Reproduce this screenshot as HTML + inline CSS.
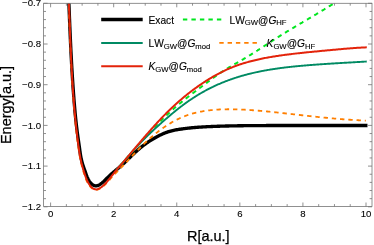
<!DOCTYPE html>
<html><head><meta charset="utf-8"><title>plot</title>
<style>
html,body{margin:0;padding:0;background:#fff;}
body{width:374px;height:245px;overflow:hidden;}
svg{display:block;will-change:transform;font-kerning:none;font-family:"Liberation Sans",sans-serif;}
.tk text{font-size:9.6px;fill:#000;stroke:#000;stroke-width:0.1px;}
.lg text{font-size:10.2px;fill:#000;stroke:#000;stroke-width:0.12px;}
.lg .s{font-size:7.7px;}
.lg .i{font-style:italic;}
.ax{font-size:14.5px;fill:#000;stroke:#000;stroke-width:0.25px;}
</style></head>
<body>
<svg width="374" height="245" viewBox="0 0 374 245">
<rect width="374" height="245" fill="#fff"/>
<defs><clipPath id="c"><rect x="43.6" y="3.3" width="328.4" height="203.2"/></clipPath></defs>
<g clip-path="url(#c)" fill="none" stroke-linejoin="round">
<path d="M67.60,-30.00 L67.64,-28.98 L67.68,-27.96 L67.72,-26.93 L67.77,-25.91 L67.81,-24.89 L67.85,-23.87 L67.89,-22.84 L67.93,-21.82 L67.97,-20.80 L68.01,-19.78 L68.05,-18.75 L68.09,-17.73 L68.13,-16.71 L68.17,-15.69 L68.21,-14.66 L68.25,-13.64 L68.29,-12.62 L68.32,-11.60 L68.36,-10.57 L68.40,-9.55 L68.44,-8.53 L68.48,-7.51 L68.52,-6.48 L68.56,-5.46 L68.60,-4.44 L68.64,-3.42 L68.68,-2.39 L68.72,-1.37 L68.76,-0.35 L68.79,0.67 L68.83,1.70 L68.87,2.72 L68.91,3.74 L68.95,4.76 L68.99,5.79 L69.03,6.81 L69.07,7.83 L69.11,8.85 L69.15,9.88 L69.19,10.90 L69.23,11.92 L69.27,12.94 L69.31,13.97 L69.35,14.99 L69.39,16.01 L69.43,17.03 L69.47,18.06 L69.52,19.08 L69.56,20.10 L69.60,21.12 L69.64,22.15 L69.68,23.17 L69.72,24.19 L69.77,25.21 L69.81,26.23 L69.85,27.26 L69.90,28.28 L69.94,29.30 L69.98,30.32 L70.03,31.35 L70.07,32.37 L70.11,33.39 L70.16,34.41 L70.20,35.44 L70.25,36.46 L70.30,37.48 L70.34,38.50 L70.39,39.52 L70.43,40.55 L70.48,41.57 L70.53,42.59 L70.58,43.61 L70.63,44.63 L70.67,45.66 L70.72,46.68 L70.77,47.70 L70.82,48.72 L70.87,49.74 L70.92,50.77 L70.97,51.79 L71.02,52.81 L71.08,53.83 L71.13,54.85 L71.18,55.88 L71.23,56.90 L71.29,57.92 L71.34,58.94 L71.40,59.96 L71.45,60.98 L71.51,62.01 L71.56,63.03 L71.62,64.05 L71.68,65.07 L71.74,66.09 L71.79,67.11 L71.85,68.14 L71.91,69.16 L71.97,70.18 L72.03,71.20 L72.10,72.22 L72.16,73.24 L72.22,74.26 L72.28,75.29 L72.35,76.31 L72.41,77.33 L72.48,78.35 L72.54,79.37 L72.61,80.39 L72.67,81.41 L72.74,82.43 L72.81,83.45 L72.88,84.48 L72.95,85.50 L73.02,86.52 L73.09,87.54 L73.16,88.56 L73.23,89.58 L73.31,90.60 L73.38,91.62 L73.46,92.64 L73.53,93.66 L73.61,94.68 L73.68,95.70 L73.76,96.72 L73.84,97.75 L73.92,98.77 L74.00,99.79 L74.08,100.81 L74.16,101.83 L74.24,102.85 L74.33,103.87 L74.41,104.89 L74.50,105.91 L74.59,106.93 L74.67,107.95 L74.76,108.97 L74.85,109.99 L74.95,111.01 L75.04,112.03 L75.13,113.04 L75.23,114.06 L75.33,115.08 L75.43,116.10 L75.53,117.12 L75.63,118.14 L75.74,119.15 L75.85,120.17 L75.96,121.19 L76.07,122.21 L76.18,123.22 L76.30,124.24 L76.41,125.25 L76.53,126.27 L76.65,127.29 L76.78,128.30 L76.91,129.31 L77.04,130.33 L77.17,131.34 L77.30,132.36 L77.44,133.37 L77.58,134.38 L77.72,135.39 L77.86,136.41 L78.00,137.42 L78.14,138.43 L78.29,139.45 L78.43,140.46 L78.58,141.47 L78.72,142.48 L78.87,143.50 L79.01,144.51 L79.15,145.53 L79.30,146.54 L79.44,147.56 L79.58,148.57 L79.72,149.59 L79.86,150.61 L80.01,151.62 L80.16,152.64 L80.31,153.65 L80.47,154.66 L80.64,155.67 L80.82,156.68 L81.01,157.69 L81.21,158.69 L81.43,159.69 L81.66,160.68 L81.91,161.67 L82.18,162.66 L82.47,163.64 L82.77,164.62 L83.08,165.59 L83.41,166.56 L83.74,167.53 L84.08,168.49 L84.42,169.46 L84.76,170.42 L85.11,171.38 L85.44,172.34 L85.78,173.30 L86.11,174.26 L86.45,175.22 L86.81,176.17 L87.19,177.12 L87.60,178.06 L88.04,178.99 L88.54,179.91 L89.09,180.83 L89.70,181.72 L90.38,182.60 L91.11,183.43 L91.90,184.18 L92.73,184.84 L93.60,185.36 L94.51,185.73 L95.44,185.92 L96.38,185.91 L97.34,185.71 L98.29,185.37 L99.23,184.89 L100.16,184.33 L101.05,183.70 L101.90,183.03 L102.71,182.35 L103.49,181.65 L104.24,180.93 L104.97,180.21 L105.69,179.49 L106.41,178.77 L107.13,178.05 L107.85,177.34 L108.58,176.63 L109.32,175.93 L110.07,175.24 L110.82,174.55 L111.58,173.87 L112.35,173.20 L113.12,172.53 L113.90,171.87 L114.69,171.21 L115.47,170.55 L116.26,169.90 L117.04,169.24 L117.83,168.59 L118.61,167.93 L119.39,167.26 L120.17,166.60 L120.94,165.92 L121.70,165.24 L122.46,164.55 L123.21,163.86 L123.96,163.16 L124.71,162.46 L125.45,161.75 L126.19,161.05 L126.93,160.34 L127.66,159.63 L128.40,158.91 L129.14,158.20 L129.87,157.49 L130.61,156.78 L131.34,156.07 L132.08,155.36 L132.82,154.65 L133.56,153.94 L134.31,153.24 L135.05,152.54 L135.81,151.85 L136.56,151.16 L137.32,150.48 L138.09,149.80 L138.86,149.13 L139.64,148.47 L140.42,147.81 L141.22,147.16 L142.01,146.52 L142.82,145.89 L143.63,145.27 L144.45,144.65 L145.27,144.04 L146.10,143.44 L146.94,142.86 L147.79,142.27 L148.64,141.70 L149.49,141.14 L150.35,140.58 L151.22,140.04 L152.09,139.50 L152.97,138.97 L153.86,138.46 L154.75,137.95 L155.64,137.45 L156.54,136.96 L157.45,136.48 L158.36,136.01 L159.27,135.55 L160.19,135.10 L161.12,134.66 L162.05,134.23 L162.99,133.81 L163.93,133.41 L164.87,133.02 L165.83,132.65 L166.78,132.29 L167.75,131.96 L168.72,131.64 L169.69,131.34 L170.68,131.06 L171.66,130.80 L172.66,130.56 L173.66,130.34 L174.66,130.13 L175.66,129.94 L176.67,129.75 L177.68,129.58 L178.70,129.42 L179.71,129.27 L180.73,129.12 L181.74,128.97 L182.76,128.83 L183.77,128.70 L184.79,128.57 L185.81,128.44 L186.82,128.32 L187.84,128.20 L188.86,128.09 L189.87,127.98 L190.89,127.88 L191.91,127.78 L192.93,127.69 L193.95,127.59 L194.97,127.51 L195.99,127.42 L197.01,127.34 L198.03,127.26 L199.05,127.19 L200.07,127.12 L201.09,127.05 L202.11,126.98 L203.13,126.92 L204.15,126.86 L205.17,126.80 L206.19,126.75 L207.22,126.69 L208.24,126.64 L209.26,126.60 L210.28,126.55 L211.30,126.51 L212.33,126.46 L213.35,126.42 L214.37,126.39 L215.39,126.35 L216.42,126.31 L217.44,126.28 L218.46,126.24 L219.48,126.21 L220.51,126.18 L221.53,126.15 L222.55,126.12 L223.57,126.09 L224.60,126.07 L225.62,126.04 L226.64,126.02 L227.67,125.99 L228.69,125.97 L229.71,125.94 L230.73,125.92 L231.76,125.90 L232.78,125.88 L233.80,125.86 L234.83,125.84 L235.85,125.82 L236.87,125.81 L237.90,125.79 L238.92,125.77 L239.94,125.76 L240.97,125.74 L241.99,125.73 L243.01,125.72 L244.03,125.70 L245.06,125.69 L246.08,125.68 L247.10,125.67 L248.13,125.66 L249.15,125.65 L250.17,125.64 L251.20,125.63 L252.22,125.62 L253.24,125.61 L254.27,125.60 L255.29,125.60 L256.31,125.59 L257.34,125.58 L258.36,125.58 L259.38,125.57 L260.41,125.57 L261.43,125.56 L262.45,125.56 L263.48,125.55 L264.50,125.55 L265.52,125.55 L266.55,125.54 L267.57,125.54 L268.59,125.54 L269.62,125.53 L270.64,125.53 L271.66,125.53 L272.69,125.53 L273.71,125.52 L274.73,125.52 L275.76,125.52 L276.78,125.52 L277.80,125.52 L278.83,125.52 L279.85,125.52 L280.87,125.51 L281.90,125.51 L282.92,125.51 L283.94,125.51 L284.97,125.51 L285.99,125.51 L287.01,125.51 L288.04,125.51 L289.06,125.51 L290.08,125.51 L291.11,125.50 L292.13,125.50 L293.15,125.50 L294.18,125.50 L295.20,125.50 L296.22,125.50 L297.24,125.50 L298.27,125.50 L299.29,125.50 L300.31,125.50 L301.34,125.50 L302.36,125.50 L303.38,125.50 L304.41,125.50 L305.43,125.50 L306.45,125.50 L307.48,125.50 L308.50,125.50 L309.52,125.50 L310.55,125.50 L311.57,125.50 L312.59,125.50 L313.62,125.50 L314.64,125.50 L315.66,125.50 L316.69,125.50 L317.71,125.50 L318.73,125.50 L319.75,125.50 L320.78,125.50 L321.80,125.50 L322.82,125.50 L323.85,125.50 L324.87,125.50 L325.89,125.50 L326.92,125.50 L327.94,125.50 L328.96,125.50 L329.99,125.50 L331.01,125.50 L332.03,125.50 L333.06,125.50 L334.08,125.50 L335.10,125.50 L336.13,125.50 L337.15,125.50 L338.17,125.50 L339.20,125.50 L340.22,125.50 L341.24,125.50 L342.26,125.50 L343.29,125.50 L344.31,125.50 L345.33,125.50 L346.36,125.50 L347.38,125.50 L348.40,125.50 L349.43,125.50 L350.45,125.50 L351.47,125.50 L352.50,125.50 L353.52,125.50 L354.54,125.50 L355.57,125.50 L356.59,125.50 L357.61,125.50 L358.64,125.50 L359.66,125.50 L360.68,125.50 L361.71,125.50 L362.73,125.50 L363.75,125.50 L364.78,125.50 L365.80,125.50" stroke="#000" stroke-width="3.35" stroke-linecap="square"/>
<path d="M116.46,169.96 L116.84,169.52 L117.22,169.09 L117.60,168.65 L117.98,168.21 L118.36,167.77 L118.74,167.34 L119.12,166.90 L119.50,166.46 L119.88,166.02 L120.26,165.59 L120.64,165.15 L121.03,164.71 L121.41,164.27 L121.79,163.84 L122.17,163.40 L122.55,162.96 L122.93,162.52 L123.31,162.09 L123.69,161.65 L124.07,161.21 L124.45,160.78 L124.83,160.34 L125.21,159.90 L125.59,159.46 L125.97,159.03 L126.35,158.59 L126.73,158.15 L127.11,157.72 L127.49,157.28 L127.87,156.84 L128.26,156.41 L128.64,155.97 L129.02,155.53 L129.40,155.10 L129.78,154.66 L130.16,154.23 L130.54,153.79 L130.93,153.35 L131.31,152.92 L131.69,152.48 L132.07,152.05 L132.45,151.61 L132.84,151.18 L133.22,150.74 L133.60,150.31 L133.99,149.87 L134.37,149.44 L134.75,149.00 L135.14,148.57 L135.52,148.14 L135.90,147.70 L136.29,147.27 L136.67,146.84 L137.06,146.40 L137.44,145.97 L137.83,145.54 L138.21,145.10 L138.60,144.67 L138.99,144.24 L139.37,143.81 L139.76,143.38 L140.14,142.94 L140.53,142.51 L140.92,142.08 L141.31,141.65 L141.69,141.22 L142.08,140.79 L142.47,140.36 L142.86,139.93 L143.25,139.50 L143.64,139.07 L144.03,138.64 L144.42,138.21 L144.81,137.78 L145.20,137.35 L145.59,136.93 L145.98,136.50 L146.37,136.07 L146.76,135.64 L147.16,135.22 L147.55,134.79 L147.94,134.36 L148.33,133.94 L148.73,133.51 L149.12,133.09 L149.52,132.66 L149.91,132.24 L150.31,131.81 L150.70,131.39 L151.10,130.97 L151.50,130.54 L151.89,130.12 L152.29,129.70 L152.69,129.28 L153.09,128.86 L153.49,128.44 L153.89,128.02 L154.29,127.60 L154.69,127.18 L155.09,126.76 L155.49,126.34 L155.89,125.92 L156.30,125.50 L156.70,125.09 L157.10,124.67 L157.51,124.26 L157.91,123.84 L158.32,123.43 L158.72,123.01 L159.13,122.60 L159.54,122.19 L159.95,121.78 L160.36,121.37 L160.76,120.96 L161.17,120.55 L161.59,120.14 L162.00,119.73 L162.41,119.32 L162.82,118.91 L163.23,118.51 L163.65,118.10 L164.06,117.70 L164.48,117.29 L164.89,116.89 L165.31,116.49 L165.73,116.09 L166.15,115.69 L166.57,115.29 L166.99,114.89 L167.41,114.49 L167.83,114.09 L168.25,113.69 L168.67,113.30 L169.10,112.90 L169.52,112.51 L169.95,112.12 L170.37,111.72 L170.80,111.33 L171.23,110.94 L171.65,110.55 L172.08,110.16 L172.51,109.78 L172.95,109.39 L173.38,109.01 L173.81,108.62 L174.24,108.24 L174.68,107.85 L175.11,107.47 L175.55,107.09 L175.99,106.71 L176.43,106.33 L176.87,105.96 L177.31,105.58 L177.75,105.21 L178.19,104.83 L178.63,104.46 L179.08,104.09 L179.52,103.72 L179.97,103.35 L180.41,102.98 L180.86,102.61 L181.31,102.24 L181.76,101.87 L182.20,101.51 L182.65,101.14 L183.11,100.78 L183.56,100.41 L184.01,100.05 L184.46,99.69 L184.91,99.33 L185.37,98.97 L185.82,98.61 L186.28,98.25 L186.73,97.89 L187.19,97.53 L187.65,97.18 L188.10,96.82 L188.56,96.46 L189.02,96.11 L189.48,95.75 L189.94,95.40 L190.40,95.05 L190.86,94.69 L191.32,94.34 L191.78,93.99 L192.24,93.63 L192.70,93.28 L193.16,92.93 L193.62,92.58 L194.09,92.23 L194.55,91.88 L195.01,91.53 L195.48,91.18 L195.94,90.83 L196.40,90.48 L196.87,90.13 L197.33,89.79 L197.79,89.44 L198.26,89.09 L198.72,88.74 L199.19,88.39 L199.65,88.05 L200.12,87.70 L200.58,87.35 L201.05,87.01 L201.51,86.66 L201.98,86.31 L202.44,85.96 L202.91,85.62 L203.37,85.27 L203.84,84.92 L204.30,84.58 L204.76,84.23 L205.23,83.88 L205.69,83.53 L206.16,83.19 L206.62,82.84 L207.09,82.49 L207.55,82.14 L208.01,81.79 L208.48,81.45 L208.94,81.10 L209.40,80.75 L209.87,80.40 L210.33,80.06 L210.80,79.71 L211.26,79.36 L211.72,79.02 L212.19,78.67 L212.66,78.33 L213.12,77.98 L213.59,77.64 L214.06,77.30 L214.52,76.96 L214.99,76.62 L215.46,76.28 L215.93,75.94 L216.40,75.61 L216.87,75.27 L217.35,74.94 L217.82,74.60 L218.29,74.27 L218.77,73.94 L219.25,73.61 L219.72,73.29 L220.20,72.96 L220.68,72.64 L221.16,72.32 L221.65,72.00 L222.13,71.68 L222.62,71.37 L223.10,71.05 L223.59,70.74 L224.08,70.43 L224.57,70.12 L225.06,69.82 L225.55,69.51 L226.05,69.21 L226.54,68.91 L227.04,68.61 L227.53,68.31 L228.03,68.01 L228.53,67.71 L229.03,67.41 L229.53,67.12 L230.02,66.83 L230.53,66.53 L231.03,66.24 L231.53,65.95 L232.03,65.66 L232.53,65.37 L233.03,65.08 L233.54,64.79 L234.04,64.50 L234.54,64.21 L235.05,63.92 L235.55,63.63 L236.05,63.35 L236.56,63.06 L237.06,62.77 L237.56,62.48 L238.07,62.20 L238.57,61.91 L239.07,61.62 L239.58,61.33 L240.08,61.05 L240.58,60.76 L241.09,60.47 L241.59,60.18 L242.09,59.89 L242.59,59.60 L243.10,59.31 L243.60,59.02 L244.10,58.72 L244.60,58.43 L245.10,58.14 L245.60,57.84 L246.09,57.55 L246.59,57.25 L247.09,56.95 L247.58,56.65 L248.08,56.35 L248.57,56.05 L249.07,55.75 L249.56,55.44 L250.06,55.14 L250.55,54.83 L251.04,54.53 L251.53,54.22 L252.02,53.91 L252.51,53.61 L253.00,53.30 L253.49,52.99 L253.98,52.68 L254.47,52.37 L254.96,52.05 L255.45,51.74 L255.94,51.43 L256.42,51.12 L256.91,50.80 L257.40,50.49 L257.88,50.17 L258.37,49.86 L258.86,49.54 L259.34,49.23 L259.83,48.91 L260.32,48.60 L260.80,48.28 L261.29,47.96 L261.77,47.65 L262.26,47.33 L262.74,47.02 L263.23,46.70 L263.71,46.38 L264.20,46.07 L264.69,45.75 L265.17,45.43 L265.66,45.12 L266.14,44.80 L266.63,44.48 L267.11,44.17 L267.60,43.85 L268.08,43.53 L268.57,43.22 L269.06,42.90 L269.54,42.59 L270.03,42.27 L270.52,41.96 L271.00,41.64 L271.49,41.33 L271.98,41.01 L272.46,40.70 L272.95,40.38 L273.44,40.07 L273.93,39.76 L274.41,39.44 L274.90,39.13 L275.39,38.82 L275.88,38.51 L276.37,38.20 L276.86,37.89 L277.35,37.58 L277.84,37.27 L278.33,36.96 L278.82,36.65 L279.31,36.34 L279.80,36.03 L280.29,35.72 L280.78,35.42 L281.27,35.11 L281.77,34.80 L282.26,34.50 L282.75,34.19 L283.24,33.89 L283.74,33.58 L284.23,33.28 L284.72,32.98 L285.22,32.67 L285.71,32.37 L286.20,32.07 L286.70,31.76 L287.19,31.46 L287.69,31.16 L288.18,30.86 L288.68,30.56 L289.17,30.26 L289.67,29.96 L290.17,29.66 L290.66,29.36 L291.16,29.06 L291.66,28.76 L292.15,28.46 L292.65,28.16 L293.15,27.87 L293.64,27.57 L294.14,27.27 L294.64,26.97 L295.14,26.68 L295.63,26.38 L296.13,26.08 L296.63,25.79 L297.13,25.49 L297.63,25.19 L298.12,24.90 L298.62,24.60 L299.12,24.31 L299.62,24.01 L300.12,23.72 L300.62,23.42 L301.12,23.13 L301.62,22.83 L302.12,22.54 L302.61,22.24 L303.11,21.95 L303.61,21.65 L304.11,21.36 L304.61,21.07 L305.11,20.77 L305.61,20.48 L306.11,20.18 L306.61,19.89 L307.11,19.59 L307.61,19.30 L308.11,19.00 L308.61,18.71 L309.10,18.41 L309.60,18.12 L310.10,17.83 L310.60,17.53 L311.10,17.24 L311.60,16.94 L312.10,16.65 L312.60,16.35 L313.10,16.05 L313.59,15.76 L314.09,15.46 L314.59,15.17 L315.09,14.87 L315.59,14.57 L316.09,14.28 L316.58,13.98 L317.08,13.68 L317.58,13.39 L318.08,13.09 L318.57,12.79 L319.07,12.49 L319.57,12.20 L320.06,11.90 L320.56,11.60 L321.06,11.30 L321.55,11.00 L322.05,10.70 L322.54,10.40 L323.04,10.10 L323.53,9.80 L324.03,9.50 L324.52,9.19 L325.02,8.89 L325.51,8.59 L326.01,8.29 L326.50,7.98 L326.99,7.68 L327.49,7.38 L327.98,7.07 L328.47,6.77 L328.97,6.46 L329.46,6.15 L329.95,5.85 L330.44,5.54 L330.93,5.23 L331.42,4.92 L331.91,4.62 L332.40,4.31 L332.89,4.00 L333.38,3.69 L333.87,3.37 L334.36,3.06 L334.85,2.75 L335.33,2.44 L335.82,2.12 L336.31,1.81 L336.80,1.49 L337.28,1.18 L337.77,0.86 L338.25,0.55 L338.74,0.23 L339.22,-0.09 L339.71,-0.41 L340.19,-0.73 L340.67,-1.05 L341.16,-1.37 L341.64,-1.69 L342.12,-2.02 L342.60,-2.34 L343.08,-2.66 L343.56,-2.99 L344.04,-3.31 L344.52,-3.64 L345.00,-3.97" stroke="#00e61e" stroke-width="2" stroke-dasharray="4.4 4.12" stroke-dashoffset="2.67"/>
<path d="M116.53,170.00 L116.90,169.57 L117.27,169.14 L117.64,168.71 L118.01,168.27 L118.38,167.84 L118.75,167.41 L119.12,166.97 L119.49,166.54 L119.86,166.11 L120.23,165.67 L120.60,165.24 L120.97,164.81 L121.34,164.37 L121.71,163.94 L122.08,163.50 L122.45,163.07 L122.82,162.64 L123.19,162.20 L123.55,161.77 L123.92,161.34 L124.29,160.90 L124.66,160.47 L125.04,160.04 L125.41,159.60 L125.78,159.17 L126.15,158.74 L126.52,158.31 L126.89,157.87 L127.26,157.44 L127.64,157.01 L128.01,156.58 L128.38,156.15 L128.75,155.72 L129.13,155.29 L129.50,154.86 L129.88,154.43 L130.25,154.00 L130.63,153.57 L131.01,153.14 L131.38,152.72 L131.76,152.29 L132.14,151.86 L132.52,151.44 L132.90,151.01 L133.28,150.59 L133.66,150.17 L134.04,149.74 L134.42,149.32 L134.80,148.90 L135.19,148.48 L135.57,148.06 L135.96,147.64 L136.34,147.22 L136.73,146.80 L137.12,146.38 L137.51,145.97 L137.90,145.55 L138.29,145.14 L138.68,144.72 L139.07,144.31 L139.46,143.90 L139.85,143.49 L140.25,143.08 L140.64,142.67 L141.04,142.26 L141.44,141.85 L141.83,141.44 L142.23,141.04 L142.63,140.63 L143.03,140.22 L143.43,139.82 L143.83,139.41 L144.23,139.01 L144.64,138.61 L145.04,138.21 L145.44,137.81 L145.85,137.41 L146.25,137.01 L146.66,136.61 L147.07,136.21 L147.47,135.81 L147.88,135.41 L148.29,135.02 L148.70,134.62 L149.11,134.23 L149.52,133.83 L149.93,133.44 L150.34,133.05 L150.76,132.65 L151.17,132.26 L151.58,131.87 L152.00,131.48 L152.41,131.09 L152.83,130.70 L153.25,130.31 L153.66,129.92 L154.08,129.54 L154.50,129.15 L154.92,128.76 L155.34,128.38 L155.76,127.99 L156.18,127.61 L156.60,127.23 L157.02,126.84 L157.44,126.46 L157.86,126.08 L158.29,125.69 L158.71,125.31 L159.13,124.93 L159.56,124.55 L159.98,124.17 L160.41,123.79 L160.83,123.41 L161.26,123.04 L161.69,122.66 L162.11,122.28 L162.54,121.90 L162.97,121.53 L163.40,121.15 L163.83,120.78 L164.25,120.40 L164.68,120.03 L165.11,119.65 L165.54,119.28 L165.98,118.90 L166.41,118.53 L166.84,118.16 L167.27,117.79 L167.70,117.41 L168.14,117.04 L168.57,116.67 L169.00,116.30 L169.44,115.93 L169.87,115.56 L170.31,115.19 L170.74,114.83 L171.18,114.46 L171.61,114.09 L172.05,113.73 L172.49,113.36 L172.93,113.00 L173.37,112.63 L173.81,112.27 L174.25,111.91 L174.69,111.55 L175.13,111.19 L175.57,110.83 L176.02,110.47 L176.46,110.11 L176.90,109.76 L177.35,109.40 L177.79,109.04 L178.24,108.69 L178.69,108.34 L179.14,107.99 L179.59,107.64 L180.04,107.29 L180.49,106.94 L180.94,106.59 L181.39,106.25 L181.85,105.91 L182.30,105.56 L182.76,105.22 L183.22,104.88 L183.67,104.54 L184.13,104.20 L184.59,103.87 L185.05,103.53 L185.51,103.20 L185.97,102.87 L186.44,102.54 L186.90,102.21 L187.37,101.88 L187.83,101.55 L188.30,101.23 L188.77,100.90 L189.24,100.58 L189.71,100.26 L190.18,99.94 L190.65,99.62 L191.12,99.30 L191.60,98.99 L192.07,98.67 L192.54,98.36 L193.02,98.05 L193.50,97.74 L193.98,97.43 L194.46,97.12 L194.94,96.82 L195.42,96.51 L195.90,96.21 L196.38,95.91 L196.86,95.61 L197.35,95.31 L197.83,95.01 L198.32,94.72 L198.81,94.42 L199.30,94.13 L199.79,93.84 L200.28,93.55 L200.77,93.27 L201.26,92.98 L201.75,92.70 L202.24,92.41 L202.74,92.13 L203.24,91.85 L203.73,91.57 L204.23,91.30 L204.73,91.02 L205.23,90.75 L205.73,90.48 L206.23,90.21 L206.73,89.94 L207.23,89.68 L207.74,89.41 L208.24,89.15 L208.75,88.89 L209.25,88.63 L209.76,88.37 L210.27,88.11 L210.78,87.86 L211.29,87.60 L211.80,87.35 L212.31,87.10 L212.83,86.86 L213.34,86.61 L213.85,86.37 L214.37,86.12 L214.89,85.88 L215.40,85.64 L215.92,85.41 L216.44,85.17 L216.96,84.94 L217.48,84.70 L218.00,84.47 L218.53,84.24 L219.05,84.02 L219.57,83.79 L220.10,83.57 L220.62,83.34 L221.15,83.12 L221.68,82.90 L222.20,82.69 L222.73,82.47 L223.26,82.26 L223.79,82.04 L224.32,81.83 L224.85,81.62 L225.38,81.42 L225.91,81.21 L226.45,81.01 L226.98,80.80 L227.52,80.60 L228.05,80.40 L228.59,80.21 L229.12,80.01 L229.66,79.82 L230.20,79.62 L230.73,79.43 L231.27,79.24 L231.81,79.05 L232.35,78.87 L232.89,78.68 L233.43,78.50 L233.97,78.32 L234.51,78.14 L235.05,77.96 L235.60,77.78 L236.14,77.61 L236.68,77.44 L237.23,77.26 L237.77,77.09 L238.32,76.92 L238.86,76.76 L239.41,76.59 L239.95,76.43 L240.50,76.26 L241.05,76.10 L241.59,75.94 L242.14,75.79 L242.69,75.63 L243.24,75.48 L243.78,75.32 L244.33,75.17 L244.88,75.02 L245.43,74.87 L245.98,74.72 L246.53,74.58 L247.08,74.43 L247.63,74.29 L248.18,74.15 L248.74,74.01 L249.29,73.87 L249.84,73.73 L250.39,73.60 L250.95,73.46 L251.50,73.33 L252.05,73.20 L252.61,73.07 L253.16,72.94 L253.71,72.81 L254.27,72.69 L254.82,72.56 L255.38,72.44 L255.93,72.31 L256.49,72.19 L257.05,72.07 L257.60,71.96 L258.16,71.84 L258.72,71.72 L259.27,71.61 L259.83,71.49 L260.39,71.38 L260.94,71.27 L261.50,71.16 L262.06,71.05 L262.62,70.94 L263.18,70.84 L263.74,70.73 L264.30,70.63 L264.86,70.53 L265.42,70.42 L265.98,70.32 L266.54,70.22 L267.10,70.12 L267.66,70.03 L268.22,69.93 L268.78,69.84 L269.34,69.74 L269.90,69.65 L270.46,69.56 L271.03,69.46 L271.59,69.37 L272.15,69.29 L272.71,69.20 L273.28,69.11 L273.84,69.02 L274.40,68.94 L274.96,68.85 L275.53,68.77 L276.09,68.69 L276.66,68.61 L277.22,68.53 L277.78,68.45 L278.35,68.37 L278.91,68.29 L279.48,68.21 L280.04,68.14 L280.61,68.06 L281.17,67.99 L281.74,67.91 L282.30,67.84 L282.87,67.77 L283.43,67.70 L284.00,67.63 L284.56,67.56 L285.13,67.49 L285.69,67.42 L286.26,67.35 L286.83,67.29 L287.39,67.22 L287.96,67.16 L288.53,67.09 L289.09,67.03 L289.66,66.97 L290.23,66.90 L290.79,66.84 L291.36,66.78 L291.93,66.72 L292.49,66.66 L293.06,66.60 L293.63,66.54 L294.20,66.48 L294.76,66.43 L295.33,66.37 L295.90,66.31 L296.47,66.26 L297.03,66.20 L297.60,66.15 L298.17,66.10 L298.74,66.04 L299.30,65.99 L299.87,65.94 L300.44,65.88 L301.01,65.83 L301.58,65.78 L302.14,65.73 L302.71,65.68 L303.28,65.63 L303.85,65.58 L304.42,65.53 L304.98,65.49 L305.55,65.44 L306.12,65.39 L306.69,65.34 L307.25,65.30 L307.82,65.25 L308.39,65.20 L308.96,65.16 L309.53,65.11 L310.09,65.07 L310.66,65.02 L311.23,64.98 L311.80,64.94 L312.37,64.89 L312.93,64.85 L313.50,64.81 L314.07,64.76 L314.64,64.72 L315.21,64.68 L315.77,64.64 L316.34,64.59 L316.91,64.55 L317.48,64.51 L318.05,64.47 L318.61,64.43 L319.18,64.39 L319.75,64.35 L320.32,64.31 L320.89,64.27 L321.45,64.23 L322.02,64.20 L322.59,64.16 L323.16,64.12 L323.73,64.08 L324.29,64.04 L324.86,64.00 L325.43,63.97 L326.00,63.93 L326.57,63.89 L327.13,63.86 L327.70,63.82 L328.27,63.78 L328.84,63.75 L329.41,63.71 L329.98,63.68 L330.54,63.64 L331.11,63.60 L331.68,63.57 L332.25,63.53 L332.82,63.50 L333.38,63.46 L333.95,63.43 L334.52,63.39 L335.09,63.36 L335.66,63.32 L336.23,63.29 L336.79,63.26 L337.36,63.22 L337.93,63.19 L338.50,63.15 L339.07,63.12 L339.64,63.09 L340.20,63.05 L340.77,63.02 L341.34,62.99 L341.91,62.95 L342.48,62.92 L343.05,62.89 L343.61,62.85 L344.18,62.82 L344.75,62.79 L345.32,62.75 L345.89,62.72 L346.46,62.69 L347.03,62.66 L347.59,62.62 L348.16,62.59 L348.73,62.56 L349.30,62.52 L349.87,62.49 L350.44,62.46 L351.01,62.43 L351.58,62.39 L352.14,62.36 L352.71,62.33 L353.28,62.29 L353.85,62.26 L354.42,62.23 L354.99,62.19 L355.56,62.16 L356.13,62.13 L356.70,62.10 L357.26,62.06 L357.83,62.03 L358.40,62.00 L358.97,61.96 L359.54,61.93 L360.11,61.89 L360.68,61.86 L361.25,61.83 L361.82,61.79 L362.39,61.76 L362.96,61.72 L363.53,61.69 L364.10,61.66 L364.67,61.62 L365.23,61.59 L365.80,61.55" stroke="#008a63" stroke-width="1.9" stroke-linecap="square"/>
<path d="M67.40,-30.00 L67.44,-28.95 L67.49,-27.90 L67.53,-26.85 L67.58,-25.80 L67.62,-24.75 L67.66,-23.70 L67.71,-22.65 L67.75,-21.60 L67.79,-20.55 L67.83,-19.50 L67.87,-18.45 L67.92,-17.40 L67.96,-16.35 L68.00,-15.30 L68.04,-14.24 L68.08,-13.19 L68.12,-12.14 L68.16,-11.09 L68.20,-10.04 L68.24,-8.99 L68.28,-7.94 L68.32,-6.89 L68.36,-5.84 L68.40,-4.79 L68.44,-3.74 L68.48,-2.69 L68.52,-1.64 L68.56,-0.59 L68.60,0.46 L68.63,1.51 L68.67,2.57 L68.71,3.62 L68.75,4.67 L68.79,5.72 L68.83,6.77 L68.87,7.82 L68.91,8.87 L68.94,9.92 L68.98,10.97 L69.02,12.02 L69.06,13.07 L69.10,14.12 L69.14,15.17 L69.18,16.23 L69.22,17.28 L69.26,18.33 L69.30,19.38 L69.34,20.43 L69.38,21.48 L69.42,22.53 L69.46,23.58 L69.50,24.63 L69.54,25.68 L69.58,26.73 L69.62,27.78 L69.66,28.83 L69.70,29.88 L69.74,30.94 L69.78,31.99 L69.82,33.04 L69.87,34.09 L69.91,35.14 L69.95,36.19 L70.00,37.24 L70.04,38.29 L70.08,39.34 L70.13,40.39 L70.17,41.44 L70.21,42.49 L70.26,43.54 L70.31,44.59 L70.35,45.64 L70.40,46.69 L70.44,47.74 L70.49,48.80 L70.54,49.85 L70.59,50.90 L70.63,51.95 L70.68,53.00 L70.73,54.05 L70.78,55.10 L70.83,56.15 L70.88,57.20 L70.93,58.25 L70.98,59.30 L71.04,60.35 L71.09,61.40 L71.14,62.45 L71.19,63.50 L71.25,64.55 L71.30,65.60 L71.36,66.65 L71.41,67.70 L71.47,68.75 L71.53,69.80 L71.59,70.85 L71.64,71.90 L71.70,72.95 L71.76,74.00 L71.82,75.05 L71.88,76.09 L71.95,77.14 L72.01,78.19 L72.07,79.24 L72.13,80.29 L72.20,81.34 L72.26,82.39 L72.33,83.44 L72.40,84.49 L72.46,85.54 L72.53,86.59 L72.60,87.64 L72.67,88.69 L72.74,89.73 L72.81,90.78 L72.88,91.83 L72.96,92.88 L73.03,93.93 L73.11,94.98 L73.18,96.03 L73.26,97.07 L73.34,98.12 L73.41,99.17 L73.49,100.22 L73.57,101.27 L73.65,102.32 L73.74,103.36 L73.82,104.41 L73.90,105.46 L73.99,106.51 L74.07,107.56 L74.16,108.60 L74.25,109.65 L74.34,110.70 L74.43,111.75 L74.52,112.79 L74.61,113.84 L74.71,114.89 L74.80,115.93 L74.90,116.98 L75.00,118.03 L75.10,119.07 L75.20,120.12 L75.30,121.17 L75.40,122.21 L75.51,123.26 L75.61,124.31 L75.72,125.35 L75.83,126.40 L75.94,127.44 L76.05,128.49 L76.17,129.53 L76.28,130.58 L76.40,131.62 L76.52,132.67 L76.64,133.71 L76.76,134.76 L76.88,135.80 L77.01,136.85 L77.14,137.89 L77.26,138.93 L77.39,139.98 L77.53,141.02 L77.66,142.06 L77.80,143.11 L77.93,144.15 L78.07,145.19 L78.21,146.24 L78.36,147.28 L78.50,148.32 L78.65,149.36 L78.80,150.40 L78.96,151.44 L79.11,152.49 L79.28,153.52 L79.44,154.56 L79.62,155.60 L79.80,156.64 L79.99,157.67 L80.19,158.70 L80.39,159.73 L80.61,160.76 L80.83,161.79 L81.07,162.82 L81.31,163.84 L81.57,164.86 L81.83,165.88 L82.10,166.89 L82.38,167.90 L82.67,168.92 L82.96,169.92 L83.26,170.93 L83.56,171.93 L83.87,172.93 L84.18,173.93 L84.49,174.93 L84.81,175.92 L85.14,176.91 L85.48,177.89 L85.85,178.87 L86.24,179.84 L86.66,180.81 L87.12,181.77 L87.62,182.73 L88.17,183.68 L88.78,184.62 L89.43,185.54 L90.14,186.44 L90.90,187.28 L91.71,188.05 L92.56,188.71 L93.44,189.26 L94.35,189.65 L95.29,189.87 L96.26,189.91 L97.24,189.76 L98.22,189.47 L99.20,189.04 L100.16,188.52 L101.11,187.91 L102.01,187.26 L102.88,186.59 L103.72,185.89 L104.51,185.17 L105.28,184.43 L106.03,183.68 L106.76,182.92 L107.47,182.15 L108.17,181.38 L108.87,180.60 L109.56,179.82 L110.25,179.03 L110.94,178.25 L111.64,177.47 L112.34,176.69 L113.04,175.92 L113.75,175.16 L114.48,174.39 L115.21,173.64 L115.96,172.89 L116.71,172.15 L117.46,171.40 L118.21,170.66 L118.95,169.91 L119.69,169.16 L120.43,168.41 L121.16,167.65 L121.89,166.90 L122.62,166.14 L123.34,165.37 L124.06,164.61 L124.77,163.84 L125.49,163.08 L126.20,162.31 L126.91,161.54 L127.63,160.77 L128.34,160.01 L129.05,159.24 L129.77,158.47 L130.49,157.70 L131.20,156.93 L131.92,156.17 L132.65,155.40 L133.37,154.64 L134.10,153.88 L134.82,153.12 L135.55,152.36 L136.28,151.60 L137.02,150.84 L137.75,150.09 L138.49,149.34 L139.23,148.59 L139.98,147.84 L140.72,147.10 L141.47,146.36 L142.22,145.62 L142.98,144.88 L143.73,144.15 L144.49,143.42 L145.26,142.70 L146.03,141.98 L146.80,141.26 L147.57,140.55 L148.35,139.84 L149.13,139.14 L149.91,138.44 L150.70,137.74 L151.49,137.05 L152.29,136.37 L153.09,135.69 L153.90,135.01 L154.70,134.34 L155.52,133.68 L156.33,133.02 L157.16,132.37 L157.98,131.72 L158.81,131.08 L159.65,130.45 L160.49,129.82 L161.34,129.20 L162.19,128.59 L163.04,127.98 L163.91,127.38 L164.77,126.79 L165.64,126.20 L166.52,125.63 L167.40,125.06 L168.29,124.50 L169.19,123.94 L170.09,123.40 L170.99,122.86 L171.90,122.33 L172.82,121.81 L173.74,121.30 L174.67,120.80 L175.60,120.31 L176.54,119.83 L177.48,119.36 L178.43,118.90 L179.38,118.44 L180.34,118.01 L181.30,117.58 L182.27,117.16 L183.24,116.75 L184.22,116.36 L185.20,115.98 L186.18,115.61 L187.17,115.25 L188.16,114.90 L189.16,114.57 L190.16,114.25 L191.17,113.94 L192.18,113.65 L193.19,113.37 L194.20,113.10 L195.22,112.84 L196.24,112.59 L197.27,112.36 L198.29,112.13 L199.32,111.92 L200.35,111.71 L201.39,111.52 L202.42,111.34 L203.46,111.16 L204.50,111.00 L205.54,110.84 L206.58,110.69 L207.62,110.55 L208.66,110.42 L209.71,110.30 L210.75,110.18 L211.80,110.07 L212.84,109.97 L213.89,109.88 L214.93,109.79 L215.98,109.72 L217.03,109.64 L218.08,109.58 L219.13,109.52 L220.17,109.47 L221.22,109.42 L222.27,109.38 L223.32,109.35 L224.37,109.32 L225.42,109.29 L226.48,109.28 L227.53,109.27 L228.58,109.26 L229.63,109.26 L230.68,109.26 L231.73,109.27 L232.78,109.28 L233.84,109.30 L234.89,109.32 L235.94,109.35 L236.99,109.38 L238.04,109.41 L239.10,109.45 L240.15,109.50 L241.20,109.54 L242.25,109.59 L243.30,109.64 L244.35,109.70 L245.40,109.76 L246.46,109.82 L247.51,109.88 L248.56,109.95 L249.61,110.02 L250.66,110.09 L251.71,110.16 L252.75,110.24 L253.80,110.32 L254.85,110.40 L255.90,110.48 L256.95,110.56 L258.00,110.65 L259.04,110.74 L260.09,110.83 L261.14,110.92 L262.19,111.01 L263.23,111.10 L264.28,111.20 L265.33,111.30 L266.37,111.40 L267.42,111.50 L268.46,111.60 L269.51,111.70 L270.56,111.81 L271.60,111.91 L272.65,112.02 L273.69,112.13 L274.74,112.24 L275.78,112.35 L276.83,112.46 L277.87,112.57 L278.92,112.68 L279.96,112.79 L281.01,112.91 L282.05,113.02 L283.10,113.14 L284.14,113.25 L285.18,113.37 L286.23,113.48 L287.27,113.60 L288.32,113.71 L289.36,113.83 L290.41,113.95 L291.45,114.07 L292.50,114.18 L293.54,114.30 L294.59,114.42 L295.63,114.53 L296.68,114.65 L297.72,114.77 L298.77,114.88 L299.81,115.00 L300.86,115.12 L301.90,115.23 L302.95,115.35 L303.99,115.46 L305.04,115.58 L306.08,115.69 L307.13,115.81 L308.17,115.92 L309.22,116.04 L310.26,116.15 L311.31,116.26 L312.35,116.37 L313.40,116.48 L314.45,116.59 L315.49,116.70 L316.54,116.81 L317.58,116.92 L318.63,117.03 L319.68,117.14 L320.72,117.24 L321.77,117.35 L322.81,117.45 L323.86,117.56 L324.91,117.66 L325.95,117.76 L327.00,117.86 L328.05,117.96 L329.09,118.06 L330.14,118.16 L331.19,118.26 L332.24,118.35 L333.28,118.44 L334.33,118.54 L335.38,118.63 L336.42,118.72 L337.47,118.81 L338.52,118.89 L339.57,118.98 L340.62,119.06 L341.66,119.15 L342.71,119.23 L343.76,119.31 L344.81,119.39 L345.86,119.46 L346.91,119.54 L347.95,119.61 L349.00,119.68 L350.05,119.75 L351.10,119.82 L352.15,119.89 L353.20,119.95 L354.25,120.02 L355.30,120.08 L356.35,120.13 L357.40,120.19 L358.45,120.25 L359.50,120.30 L360.55,120.35 L361.60,120.40 L362.65,120.44 L363.70,120.49 L364.75,120.53 L365.80,120.57" stroke="#ff7f00" stroke-width="1.8" stroke-dasharray="4.4 3.87" stroke-dashoffset="5.23"/>
<path d="M67.60,-30.00 L67.64,-28.91 L67.69,-27.81 L67.74,-26.72 L67.79,-25.63 L67.83,-24.54 L67.88,-23.45 L67.92,-22.35 L67.97,-21.26 L68.01,-20.17 L68.06,-19.08 L68.10,-17.98 L68.15,-16.89 L68.19,-15.80 L68.23,-14.71 L68.27,-13.61 L68.32,-12.52 L68.36,-11.43 L68.40,-10.34 L68.44,-9.24 L68.48,-8.15 L68.53,-7.06 L68.57,-5.97 L68.61,-4.87 L68.65,-3.78 L68.69,-2.69 L68.73,-1.60 L68.77,-0.50 L68.81,0.59 L68.85,1.68 L68.89,2.78 L68.93,3.87 L68.97,4.96 L69.01,6.05 L69.05,7.15 L69.09,8.24 L69.13,9.33 L69.17,10.43 L69.21,11.52 L69.25,12.61 L69.29,13.70 L69.33,14.80 L69.37,15.89 L69.41,16.98 L69.45,18.08 L69.49,19.17 L69.53,20.26 L69.57,21.36 L69.61,22.45 L69.65,23.54 L69.69,24.63 L69.73,25.73 L69.78,26.82 L69.82,27.91 L69.86,29.01 L69.90,30.10 L69.94,31.19 L69.99,32.28 L70.03,33.38 L70.07,34.47 L70.11,35.56 L70.16,36.66 L70.20,37.75 L70.25,38.84 L70.29,39.93 L70.34,41.03 L70.38,42.12 L70.43,43.21 L70.47,44.30 L70.52,45.40 L70.57,46.49 L70.61,47.58 L70.66,48.67 L70.71,49.77 L70.76,50.86 L70.81,51.95 L70.86,53.04 L70.91,54.14 L70.96,55.23 L71.01,56.32 L71.06,57.41 L71.12,58.51 L71.17,59.60 L71.22,60.69 L71.28,61.78 L71.33,62.87 L71.39,63.97 L71.44,65.06 L71.50,66.15 L71.56,67.24 L71.62,68.33 L71.68,69.43 L71.73,70.52 L71.80,71.61 L71.86,72.70 L71.92,73.79 L71.98,74.88 L72.04,75.98 L72.11,77.07 L72.17,78.16 L72.24,79.25 L72.31,80.34 L72.37,81.43 L72.44,82.52 L72.51,83.62 L72.58,84.71 L72.65,85.80 L72.72,86.89 L72.80,87.98 L72.87,89.07 L72.95,90.16 L73.02,91.25 L73.10,92.34 L73.17,93.43 L73.25,94.52 L73.33,95.61 L73.41,96.70 L73.50,97.79 L73.58,98.88 L73.66,99.97 L73.75,101.06 L73.83,102.15 L73.92,103.24 L74.01,104.33 L74.10,105.42 L74.19,106.51 L74.28,107.60 L74.37,108.69 L74.47,109.78 L74.56,110.87 L74.66,111.96 L74.76,113.05 L74.86,114.14 L74.96,115.23 L75.06,116.31 L75.16,117.40 L75.27,118.49 L75.38,119.58 L75.48,120.67 L75.59,121.76 L75.70,122.84 L75.82,123.93 L75.93,125.02 L76.05,126.11 L76.16,127.19 L76.28,128.28 L76.40,129.37 L76.53,130.45 L76.65,131.54 L76.78,132.63 L76.90,133.71 L77.03,134.80 L77.16,135.89 L77.30,136.97 L77.43,138.06 L77.57,139.14 L77.71,140.23 L77.85,141.31 L77.99,142.40 L78.13,143.48 L78.28,144.57 L78.43,145.65 L78.58,146.74 L78.73,147.82 L78.88,148.90 L79.04,149.99 L79.20,151.07 L79.37,152.15 L79.54,153.23 L79.71,154.31 L79.90,155.39 L80.09,156.47 L80.29,157.54 L80.50,158.62 L80.72,159.69 L80.95,160.75 L81.19,161.82 L81.44,162.88 L81.71,163.94 L81.99,165.00 L82.28,166.06 L82.57,167.11 L82.88,168.16 L83.19,169.20 L83.51,170.25 L83.83,171.29 L84.16,172.33 L84.49,173.36 L84.82,174.39 L85.16,175.42 L85.50,176.45 L85.86,177.47 L86.24,178.49 L86.65,179.50 L87.09,180.51 L87.58,181.51 L88.10,182.51 L88.68,183.50 L89.32,184.49 L90.01,185.46 L90.76,186.38 L91.56,187.23 L92.41,187.98 L93.30,188.60 L94.23,189.07 L95.19,189.34 L96.18,189.41 L97.19,189.27 L98.21,188.96 L99.22,188.50 L100.22,187.93 L101.19,187.28 L102.12,186.58 L103.00,185.85 L103.85,185.09 L104.65,184.32 L105.42,183.52 L106.16,182.72 L106.89,181.90 L107.59,181.07 L108.29,180.23 L108.98,179.39 L109.67,178.54 L110.35,177.69 L111.03,176.84 L111.70,175.99 L112.38,175.13 L113.06,174.28 L113.73,173.42 L114.41,172.57 L115.09,171.72 L115.78,170.87 L116.47,170.03 L117.17,169.19 L117.88,168.35 L118.59,167.52 L119.30,166.68 L120.02,165.85 L120.73,165.03 L121.45,164.20 L122.16,163.37 L122.87,162.54 L123.59,161.70 L124.30,160.87 L125.00,160.04 L125.71,159.21 L126.42,158.37 L127.13,157.54 L127.83,156.70 L128.54,155.87 L129.24,155.03 L129.94,154.20 L130.65,153.36 L131.35,152.52 L132.06,151.69 L132.76,150.85 L133.46,150.01 L134.17,149.18 L134.87,148.34 L135.58,147.51 L136.28,146.67 L136.99,145.83 L137.69,145.00 L138.40,144.16 L139.11,143.33 L139.81,142.49 L140.52,141.66 L141.23,140.83 L141.94,139.99 L142.65,139.16 L143.36,138.33 L144.07,137.50 L144.79,136.67 L145.50,135.84 L146.22,135.02 L146.94,134.19 L147.65,133.37 L148.37,132.54 L149.10,131.72 L149.82,130.90 L150.54,130.08 L151.27,129.26 L152.00,128.45 L152.73,127.63 L153.46,126.82 L154.19,126.01 L154.92,125.20 L155.66,124.39 L156.40,123.59 L157.14,122.78 L157.88,121.98 L158.63,121.18 L159.38,120.39 L160.13,119.59 L160.88,118.80 L161.63,118.01 L162.39,117.22 L163.15,116.43 L163.91,115.65 L164.68,114.87 L165.45,114.09 L166.22,113.32 L166.99,112.55 L167.77,111.78 L168.55,111.01 L169.33,110.25 L170.11,109.49 L170.90,108.73 L171.69,107.98 L172.49,107.23 L173.29,106.48 L174.09,105.74 L174.89,104.99 L175.70,104.26 L176.51,103.52 L177.33,102.79 L178.15,102.07 L178.97,101.34 L179.79,100.62 L180.62,99.91 L181.45,99.20 L182.28,98.49 L183.12,97.78 L183.96,97.08 L184.80,96.39 L185.65,95.69 L186.50,95.00 L187.36,94.32 L188.21,93.64 L189.07,92.96 L189.94,92.29 L190.80,91.62 L191.67,90.96 L192.55,90.30 L193.42,89.64 L194.30,88.99 L195.18,88.35 L196.07,87.71 L196.96,87.07 L197.85,86.44 L198.75,85.81 L199.64,85.19 L200.55,84.57 L201.45,83.95 L202.36,83.35 L203.27,82.74 L204.19,82.14 L205.10,81.55 L206.03,80.96 L206.95,80.38 L207.88,79.80 L208.81,79.22 L209.74,78.66 L210.68,78.09 L211.62,77.54 L212.56,76.98 L213.51,76.44 L214.46,75.90 L215.41,75.36 L216.37,74.83 L217.33,74.31 L218.29,73.79 L219.26,73.28 L220.23,72.78 L221.21,72.28 L222.18,71.79 L223.16,71.31 L224.15,70.84 L225.13,70.37 L226.12,69.91 L227.12,69.46 L228.12,69.01 L229.12,68.57 L230.12,68.15 L231.13,67.73 L232.15,67.32 L233.16,66.91 L234.18,66.52 L235.21,66.13 L236.23,65.75 L237.26,65.38 L238.29,65.02 L239.33,64.67 L240.37,64.32 L241.41,63.98 L242.45,63.65 L243.50,63.32 L244.54,63.00 L245.59,62.69 L246.64,62.39 L247.70,62.09 L248.75,61.80 L249.81,61.51 L250.87,61.23 L251.93,60.96 L252.99,60.69 L254.05,60.43 L255.11,60.17 L256.18,59.92 L257.24,59.67 L258.31,59.43 L259.38,59.20 L260.44,58.97 L261.51,58.74 L262.58,58.52 L263.66,58.31 L264.73,58.10 L265.80,57.89 L266.87,57.69 L267.95,57.49 L269.03,57.30 L270.10,57.11 L271.18,56.92 L272.26,56.74 L273.34,56.56 L274.41,56.39 L275.49,56.22 L276.58,56.05 L277.66,55.89 L278.74,55.73 L279.82,55.57 L280.90,55.42 L281.99,55.26 L283.07,55.12 L284.15,54.97 L285.24,54.83 L286.32,54.68 L287.41,54.54 L288.49,54.41 L289.58,54.27 L290.66,54.14 L291.75,54.01 L292.83,53.88 L293.92,53.75 L295.01,53.63 L296.09,53.50 L297.18,53.38 L298.27,53.26 L299.35,53.14 L300.44,53.02 L301.53,52.90 L302.62,52.79 L303.70,52.68 L304.79,52.56 L305.88,52.45 L306.97,52.34 L308.05,52.23 L309.14,52.12 L310.23,52.01 L311.32,51.90 L312.41,51.80 L313.49,51.69 L314.58,51.59 L315.67,51.48 L316.76,51.38 L317.85,51.28 L318.94,51.17 L320.03,51.07 L321.11,50.97 L322.20,50.87 L323.29,50.77 L324.38,50.66 L325.47,50.56 L326.56,50.46 L327.65,50.36 L328.74,50.26 L329.83,50.16 L330.91,50.06 L332.00,49.96 L333.09,49.86 L334.18,49.76 L335.27,49.65 L336.36,49.55 L337.45,49.45 L338.54,49.35 L339.63,49.25 L340.71,49.15 L341.80,49.06 L342.89,48.96 L343.98,48.86 L345.07,48.77 L346.16,48.68 L347.25,48.59 L348.34,48.50 L349.43,48.41 L350.52,48.32 L351.61,48.24 L352.70,48.16 L353.79,48.08 L354.88,48.00 L355.97,47.93 L357.06,47.86 L358.16,47.79 L359.25,47.73 L360.34,47.66 L361.43,47.61 L362.52,47.55 L363.62,47.50 L364.71,47.45 L365.80,47.41" stroke="#e3230a" stroke-width="2" stroke-linecap="square"/>
</g>
<g stroke="#757575" stroke-width="0.8" fill="none">
<rect x="43.6" y="3.3" width="328.4" height="203.2"/>
<line x1="50.60" y1="206.50" x2="50.60" y2="202.50"/><line x1="50.60" y1="3.30" x2="50.60" y2="7.30"/><line x1="66.37" y1="206.50" x2="66.37" y2="204.10"/><line x1="66.37" y1="3.30" x2="66.37" y2="5.70"/><line x1="82.14" y1="206.50" x2="82.14" y2="204.10"/><line x1="82.14" y1="3.30" x2="82.14" y2="5.70"/><line x1="97.91" y1="206.50" x2="97.91" y2="204.10"/><line x1="97.91" y1="3.30" x2="97.91" y2="5.70"/><line x1="113.68" y1="206.50" x2="113.68" y2="202.50"/><line x1="113.68" y1="3.30" x2="113.68" y2="7.30"/><line x1="129.45" y1="206.50" x2="129.45" y2="204.10"/><line x1="129.45" y1="3.30" x2="129.45" y2="5.70"/><line x1="145.22" y1="206.50" x2="145.22" y2="204.10"/><line x1="145.22" y1="3.30" x2="145.22" y2="5.70"/><line x1="160.99" y1="206.50" x2="160.99" y2="204.10"/><line x1="160.99" y1="3.30" x2="160.99" y2="5.70"/><line x1="176.76" y1="206.50" x2="176.76" y2="202.50"/><line x1="176.76" y1="3.30" x2="176.76" y2="7.30"/><line x1="192.53" y1="206.50" x2="192.53" y2="204.10"/><line x1="192.53" y1="3.30" x2="192.53" y2="5.70"/><line x1="208.30" y1="206.50" x2="208.30" y2="204.10"/><line x1="208.30" y1="3.30" x2="208.30" y2="5.70"/><line x1="224.07" y1="206.50" x2="224.07" y2="204.10"/><line x1="224.07" y1="3.30" x2="224.07" y2="5.70"/><line x1="239.84" y1="206.50" x2="239.84" y2="202.50"/><line x1="239.84" y1="3.30" x2="239.84" y2="7.30"/><line x1="255.61" y1="206.50" x2="255.61" y2="204.10"/><line x1="255.61" y1="3.30" x2="255.61" y2="5.70"/><line x1="271.38" y1="206.50" x2="271.38" y2="204.10"/><line x1="271.38" y1="3.30" x2="271.38" y2="5.70"/><line x1="287.15" y1="206.50" x2="287.15" y2="204.10"/><line x1="287.15" y1="3.30" x2="287.15" y2="5.70"/><line x1="302.92" y1="206.50" x2="302.92" y2="202.50"/><line x1="302.92" y1="3.30" x2="302.92" y2="7.30"/><line x1="318.69" y1="206.50" x2="318.69" y2="204.10"/><line x1="318.69" y1="3.30" x2="318.69" y2="5.70"/><line x1="334.46" y1="206.50" x2="334.46" y2="204.10"/><line x1="334.46" y1="3.30" x2="334.46" y2="5.70"/><line x1="350.23" y1="206.50" x2="350.23" y2="204.10"/><line x1="350.23" y1="3.30" x2="350.23" y2="5.70"/><line x1="366.00" y1="206.50" x2="366.00" y2="202.50"/><line x1="366.00" y1="3.30" x2="366.00" y2="7.30"/><line x1="43.60" y1="3.30" x2="47.60" y2="3.30"/><line x1="372.00" y1="3.30" x2="368.00" y2="3.30"/><line x1="43.60" y1="11.44" x2="46.00" y2="11.44"/><line x1="372.00" y1="11.44" x2="369.60" y2="11.44"/><line x1="43.60" y1="19.58" x2="46.00" y2="19.58"/><line x1="372.00" y1="19.58" x2="369.60" y2="19.58"/><line x1="43.60" y1="27.72" x2="46.00" y2="27.72"/><line x1="372.00" y1="27.72" x2="369.60" y2="27.72"/><line x1="43.60" y1="35.86" x2="46.00" y2="35.86"/><line x1="372.00" y1="35.86" x2="369.60" y2="35.86"/><line x1="43.60" y1="44.00" x2="47.60" y2="44.00"/><line x1="372.00" y1="44.00" x2="368.00" y2="44.00"/><line x1="43.60" y1="52.14" x2="46.00" y2="52.14"/><line x1="372.00" y1="52.14" x2="369.60" y2="52.14"/><line x1="43.60" y1="60.28" x2="46.00" y2="60.28"/><line x1="372.00" y1="60.28" x2="369.60" y2="60.28"/><line x1="43.60" y1="68.42" x2="46.00" y2="68.42"/><line x1="372.00" y1="68.42" x2="369.60" y2="68.42"/><line x1="43.60" y1="76.56" x2="46.00" y2="76.56"/><line x1="372.00" y1="76.56" x2="369.60" y2="76.56"/><line x1="43.60" y1="84.70" x2="47.60" y2="84.70"/><line x1="372.00" y1="84.70" x2="368.00" y2="84.70"/><line x1="43.60" y1="92.84" x2="46.00" y2="92.84"/><line x1="372.00" y1="92.84" x2="369.60" y2="92.84"/><line x1="43.60" y1="100.98" x2="46.00" y2="100.98"/><line x1="372.00" y1="100.98" x2="369.60" y2="100.98"/><line x1="43.60" y1="109.12" x2="46.00" y2="109.12"/><line x1="372.00" y1="109.12" x2="369.60" y2="109.12"/><line x1="43.60" y1="117.26" x2="46.00" y2="117.26"/><line x1="372.00" y1="117.26" x2="369.60" y2="117.26"/><line x1="43.60" y1="125.40" x2="47.60" y2="125.40"/><line x1="372.00" y1="125.40" x2="368.00" y2="125.40"/><line x1="43.60" y1="133.54" x2="46.00" y2="133.54"/><line x1="372.00" y1="133.54" x2="369.60" y2="133.54"/><line x1="43.60" y1="141.68" x2="46.00" y2="141.68"/><line x1="372.00" y1="141.68" x2="369.60" y2="141.68"/><line x1="43.60" y1="149.82" x2="46.00" y2="149.82"/><line x1="372.00" y1="149.82" x2="369.60" y2="149.82"/><line x1="43.60" y1="157.96" x2="46.00" y2="157.96"/><line x1="372.00" y1="157.96" x2="369.60" y2="157.96"/><line x1="43.60" y1="166.10" x2="47.60" y2="166.10"/><line x1="372.00" y1="166.10" x2="368.00" y2="166.10"/><line x1="43.60" y1="174.24" x2="46.00" y2="174.24"/><line x1="372.00" y1="174.24" x2="369.60" y2="174.24"/><line x1="43.60" y1="182.38" x2="46.00" y2="182.38"/><line x1="372.00" y1="182.38" x2="369.60" y2="182.38"/><line x1="43.60" y1="190.52" x2="46.00" y2="190.52"/><line x1="372.00" y1="190.52" x2="369.60" y2="190.52"/><line x1="43.60" y1="198.66" x2="46.00" y2="198.66"/><line x1="372.00" y1="198.66" x2="369.60" y2="198.66"/><line x1="43.60" y1="206.80" x2="47.60" y2="206.80"/><line x1="372.00" y1="206.80" x2="368.00" y2="206.80"/>
</g>
<g class="tk"><text x="50.60" y="217.3" text-anchor="middle">0</text><text x="113.68" y="217.3" text-anchor="middle">2</text><text x="176.76" y="217.3" text-anchor="middle">4</text><text x="239.84" y="217.3" text-anchor="middle">6</text><text x="302.92" y="217.3" text-anchor="middle">8</text><text x="366.00" y="217.3" text-anchor="middle">10</text><text x="41.0" y="6.40" text-anchor="end">−0.7</text><text x="41.0" y="47.10" text-anchor="end">−0.8</text><text x="41.0" y="87.80" text-anchor="end">−0.9</text><text x="41.0" y="128.50" text-anchor="end">−1.0</text><text x="41.0" y="169.20" text-anchor="end">−1.1</text><text x="41.0" y="209.90" text-anchor="end">−1.2</text></g>
<text class="ax" x="208.3" y="240.7" text-anchor="middle">R[a.u.]</text>
<text class="ax" transform="translate(11.2,105) rotate(-90)" text-anchor="middle">Energy[a.u.]</text>
<g class="lg" fill="none">
<line x1="101.2" y1="19.5" x2="142.7" y2="19.5" stroke="#000" stroke-width="3.5"/>
<line x1="182.9" y1="19.5" x2="221.3" y2="19.5" stroke="#00e61e" stroke-width="2" stroke-dasharray="4.4 4.1"/>
<line x1="101.2" y1="43" x2="142.7" y2="43" stroke="#008a63" stroke-width="1.9"/>
<line x1="219.3" y1="42.8" x2="257.8" y2="42.8" stroke="#ff7f00" stroke-width="1.8" stroke-dasharray="4.4 3.9"/>
<line x1="101.2" y1="66.3" x2="142.7" y2="66.3" stroke="#e3230a" stroke-width="1.9"/>
<text x="148.5" y="23.7">Exact</text>
<text x="229.5" y="23.7">LW<tspan class="s" dy="1.5">GW</tspan><tspan dy="-1.5">@</tspan><tspan class="i">G</tspan><tspan class="s" dy="1.5">HF</tspan></text>
<text x="148.5" y="47.0">LW<tspan class="s" dy="1.5">GW</tspan><tspan dy="-1.5">@</tspan><tspan class="i">G</tspan><tspan class="s" dy="1.5">mod</tspan></text>
<text x="266.6" y="47.2"><tspan class="i">K</tspan><tspan class="s" dy="1.5">GW</tspan><tspan dy="-1.5">@</tspan><tspan class="i">G</tspan><tspan class="s" dy="1.5">HF</tspan></text>
<text x="148.5" y="70.3"><tspan class="i">K</tspan><tspan class="s" dy="1.5">GW</tspan><tspan dy="-1.5">@</tspan><tspan class="i">G</tspan><tspan class="s" dy="1.5">mod</tspan></text>
</g>
</svg>
</body></html>
